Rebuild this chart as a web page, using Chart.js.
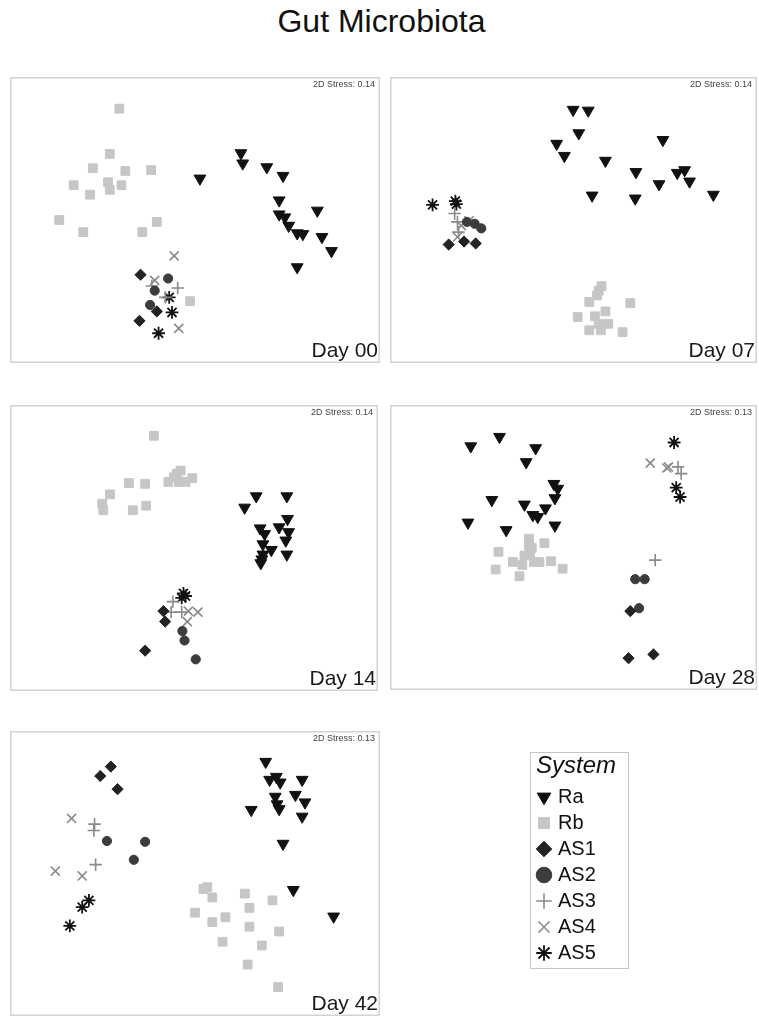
<!DOCTYPE html>
<html>
<head>
<meta charset="utf-8">
<title>Gut Microbiota – NMDS</title>
<script src="https://cdn.jsdelivr.net/npm/chart.js@4.4.1/dist/chart.umd.min.js"></script>
<style>
  html, body { margin: 0; padding: 0; background: #fff; }
  #page { position: relative; width: 759px; height: 1019px; overflow: hidden;
          font-family: "Liberation Sans", Arial, sans-serif; }
  #title { position: absolute; left: 0; top: 5px; width: 763px; text-align: center;
           font-size: 32px; line-height: 32px; color: #111; }
  .panel { position: absolute; }
  #legendBox { position: absolute; left: 530px; top: 752px; width: 97px; height: 215px;
               border: 1px solid #c4c4c4; overflow: hidden; background: #fff; }
  #legendBox canvas { position: absolute; left: 0; top: 0; }
</style>
</head>
<body>
<div id="page">
  <div id="title">Gut Microbiota</div>
  <canvas id="p0" class="panel" width="370" height="286" style="left:10px;top:77px"></canvas>
  <canvas id="p1" class="panel" width="367" height="286" style="left:390px;top:77px"></canvas>
  <canvas id="p2" class="panel" width="368" height="286" style="left:10px;top:405px"></canvas>
  <canvas id="p3" class="panel" width="367" height="285" style="left:390px;top:405px"></canvas>
  <canvas id="p4" class="panel" width="370" height="285" style="left:10px;top:731px"></canvas>
  <div id="legendBox"><canvas id="legendCanvas" width="300" height="270"></canvas></div>
</div>
<script>
// Sampling systems, sampling days and NMDS stress per day
const systems = ['Ra', 'Rb', 'AS1', 'AS2', 'AS3', 'AS4', 'AS5'];
const days = ['Day 00', 'Day 07', 'Day 14', 'Day 28', 'Day 42'];
const stress = ['0.14', '0.14', '0.14', '0.13', '0.13'];
const legendTitle = 'System';

// NMDS scores [axis 1, axis 2], rescaled to 0–100 on each day's ordination
const d00Ra  = [[51.4,65.4],[63.0,74.8],[63.5,71.0],[70.3,69.6],[74.9,66.4],[73.8,57.3],[73.8,52.1],[75.4,51.0],[76.5,47.9],[78.9,45.1],[80.5,44.8],[84.6,53.5],[85.9,43.7],[88.6,38.5],[78.9,32.5]];
const d00Rb  = [[28.6,91.3],[25.9,74.5],[21.1,69.2],[30.3,68.2],[37.6,68.5],[15.7,62.9],[20.3,59.4],[25.4,64.0],[25.9,61.2],[29.2,62.9],[11.6,50.0],[18.4,45.5],[35.1,45.5],[39.2,49.3],[48.6,19.9]];
const d00AS1 = [[34.6,29.7],[39.2,16.1],[34.3,12.6]];
const d00AS2 = [[42.4,28.3],[38.6,23.8],[37.3,18.5]];
const d00AS3 = [[41.6,21.3],[45.1,24.8],[37.8,25.5]];
const d00AS4 = [[44.1,36.7],[38.6,27.6],[45.4,9.8]];
const d00AS5 = [[42.7,21.3],[43.5,15.7],[39.7,8.0]];

const d07Ra  = [[49.9,90.9],[54.2,90.6],[51.5,82.2],[45.2,78.3],[47.4,73.8],[59.1,72.0],[75.5,79.7],[67.8,67.8],[74.4,63.3],[79.6,67.5],[81.7,68.5],[83.1,64.3],[89.9,59.4],[55.3,59.1],[67.6,58.0]];
const d07Rb  = [[58.0,25.5],[57.2,23.8],[56.7,22.0],[54.5,19.6],[66.2,19.2],[59.1,16.1],[56.1,14.3],[51.2,14.0],[57.2,11.5],[59.9,11.5],[54.5,9.1],[57.8,9.1],[64.0,8.4]];
const d07AS1 = [[14.4,40.9],[18.8,42.0],[22.1,41.3]];
const d07AS2 = [[19.6,49.3],[21.8,48.6],[23.7,46.9]];
const d07AS3 = [[16.1,52.4],[16.9,49.3],[17.2,45.5]];
const d07AS4 = [[18.0,47.9],[20.2,49.7],[16.9,43.7]];
const d07AS5 = [[9.8,55.6],[16.6,55.9],[16.3,57.0]];

const d14Ra  = [[64.4,65.0],[67.7,69.2],[76.4,69.2],[76.6,60.8],[74.2,57.7],[68.8,57.3],[70.1,55.2],[76.9,55.9],[76.1,52.8],[69.6,51.4],[72.0,49.3],[76.4,47.6],[69.6,47.6],[69.3,45.8],[69.0,44.4]];
const d14Rb  = [[38.6,91.6],[31.5,74.1],[36.1,73.8],[26.1,69.9],[23.9,66.4],[24.2,64.0],[32.6,64.0],[36.4,65.7],[42.7,74.5],[44.3,76.2],[46.2,78.7],[45.7,74.5],[47.6,74.5],[49.5,75.9],[45.1,77.6]];
const d14AS1 = [[41.3,26.6],[41.8,22.7],[36.1,11.9]];
const d14AS2 = [[46.7,19.2],[47.3,15.7],[50.5,8.7]];
const d14AS3 = [[44.0,30.1],[43.5,26.2],[46.5,26.2]];
const d14AS4 = [[48.4,26.6],[51.1,26.2],[48.1,22.7]];
const d14AS5 = [[47.0,33.2],[46.5,31.5],[47.6,32.2]];

const d28Ra  = [[20.7,87.7],[28.9,91.2],[39.2,87.0],[36.5,81.8],[44.4,73.7],[45.5,71.9],[44.7,68.4],[26.7,67.7],[36.0,66.0],[42.0,64.6],[38.4,62.1],[39.8,61.4],[19.9,59.3],[30.8,56.5],[44.7,58.2]];
const d28Rb  = [[37.3,53.3],[37.3,50.9],[41.7,51.6],[38.1,49.8],[28.6,48.4],[37.6,48.1],[36.0,47.0],[35.4,43.5],[32.7,44.6],[38.7,44.6],[40.3,44.6],[43.6,44.9],[27.8,41.8],[46.9,42.1],[34.6,39.3]];
const d28AS1 = [[66.2,26.3],[65.7,8.8],[72.8,10.2]];
const d28AS2 = [[67.6,38.2],[70.3,38.2],[68.7,27.4]];
const d28AS3 = [[79.8,80.0],[80.7,77.5],[73.3,45.3]];
const d28AS4 = [[71.9,81.4],[76.6,79.6],[77.1,80.0]];
const d28AS5 = [[78.7,89.1],[79.3,72.3],[80.4,68.8]];

const d42Ra  = [[70.0,91.6],[71.1,84.9],[73.0,86.0],[74.1,83.9],[80.3,84.9],[72.7,78.6],[78.4,79.3],[81.1,76.5],[73.2,75.8],[73.8,74.0],[65.9,73.7],[80.3,71.2],[74.9,61.1],[77.8,43.9],[89.2,34.0]];
const d42Rb  = [[52.4,44.2],[53.5,44.9],[54.9,41.1],[64.1,42.5],[71.9,40.0],[65.4,37.2],[50.0,35.4],[58.6,33.7],[54.9,31.9],[65.4,30.2],[73.8,28.4],[57.8,24.6],[68.9,23.2],[64.9,16.1],[73.5,7.7]];
const d42AS1 = [[26.2,89.8],[23.2,86.3],[28.1,81.4]];
const d42AS2 = [[25.1,62.1],[35.9,61.8],[32.7,55.1]];
const d42AS3 = [[21.6,68.4],[21.4,66.0],[21.9,53.3]];
const d42AS4 = [[15.1,70.5],[10.5,50.9],[18.1,49.1]];
const d42AS5 = [[20.0,40.0],[18.1,37.5],[14.6,30.5]];

const scoresByDay = [
  [d00Ra, d00Rb, d00AS1, d00AS2, d00AS3, d00AS4, d00AS5],
  [d07Ra, d07Rb, d07AS1, d07AS2, d07AS3, d07AS4, d07AS5],
  [d14Ra, d14Rb, d14AS1, d14AS2, d14AS3, d14AS4, d14AS5],
  [d28Ra, d28Rb, d28AS1, d28AS2, d28AS3, d28AS4, d28AS5],
  [d42Ra, d42Rb, d42AS1, d42AS2, d42AS3, d42AS4, d42AS5]
];

const FONT = '"Liberation Sans", Arial, sans-serif';
const NONE = 'rgba(0,0,0,0)';

// Marker appearance for each system
const markers = {
  Ra:  { pointStyle: 'triangle', rotation: 180, radius: 6.8, fill: '#111', stroke: '#111', width: 1 },
  Rb:  { pointStyle: 'rect',     rotation: 0,   radius: 6.2, fill: '#c6c6c6', stroke: '#c6c6c6', width: 1 },
  AS1: { pointStyle: 'rectRot',  rotation: 0,   radius: 5.6, fill: '#222', stroke: '#222', width: 1 },
  AS2: { pointStyle: 'circle',   rotation: 0,   radius: 4.6, fill: '#3c3c3c', stroke: '#3c3c3c', width: 1 },
  AS3: { pointStyle: 'cross',    rotation: 0,   radius: 6.2, fill: NONE, stroke: '#8a8a8a', width: 1.6 },
  AS4: { pointStyle: 'crossRot', rotation: 0,   radius: 6.4, fill: NONE, stroke: '#8a8a8a', width: 1.6 },
  AS5: { pointStyle: 'star',     rotation: 0,   radius: 6.4, fill: NONE, stroke: '#111', width: 1.8 }
};

function makeDataset(name, scores) {
  const m = markers[name];
  return {
    label: name,
    data: scores.map(p => ({ x: p[0], y: p[1] })),
    pointStyle: m.pointStyle,
    pointRotation: m.rotation,
    pointRadius: m.radius,
    pointHoverRadius: m.radius,
    backgroundColor: m.fill,
    pointBackgroundColor: m.fill,
    borderColor: m.stroke,
    pointBorderColor: m.stroke,
    borderWidth: m.width,
    pointBorderWidth: m.width,
    showLine: false,
    clip: false
  };
}

// Frame, stress value and day label of an ordination panel
const panelDecor = {
  id: 'panelDecor',
  afterDatasetsDraw(chart, args, opts) {
    const { ctx, width, height } = chart;
    ctx.save();
    ctx.strokeStyle = '#d3d3d3';
    ctx.lineWidth = 1.5;
    ctx.strokeRect(0.75, 0.75, width - 1.5, height - 1.5);
    ctx.fillStyle = '#444';
    ctx.font = '9px ' + FONT;
    ctx.textAlign = 'right';
    ctx.textBaseline = 'middle';
    ctx.fillText('2D Stress: ' + opts.stress, width - 5, 8);
    ctx.fillStyle = '#1a1a1a';
    ctx.font = '21px ' + FONT;
    ctx.textBaseline = 'alphabetic';
    ctx.fillText(opts.day, width - 2, height - 6);
    ctx.restore();
  }
};

days.forEach((day, i) => {
  new Chart(document.getElementById('p' + i), {
    type: 'scatter',
    data: { datasets: systems.map((s, k) => makeDataset(s, scoresByDay[i][k])) },
    options: {
      responsive: false,
      animation: false,
      devicePixelRatio: 1,
      events: [],
      layout: { padding: 0 },
      scales: {
        x: { display: false, min: 0, max: 100 },
        y: { display: false, min: 0, max: 100 }
      },
      plugins: {
        legend: { display: false },
        tooltip: { enabled: false },
        panelDecor: { day: day, stress: stress[i] }
      }
    },
    plugins: [panelDecor]
  });
});

// Italic heading above the legend entries
const legendHeading = {
  id: 'legendHeading',
  afterDraw(chart, args, opts) {
    const ctx = chart.ctx;
    ctx.save();
    ctx.fillStyle = '#111';
    ctx.font = 'italic 24px ' + FONT;
    ctx.textAlign = 'left';
    ctx.textBaseline = 'alphabetic';
    ctx.fillText(opts.text, 5, 20);
    ctx.restore();
  }
};

// Shared legend of the sampling systems
new Chart(document.getElementById('legendCanvas'), {
  type: 'scatter',
  data: { datasets: systems.map(s => makeDataset(s, [])) },
  options: {
    responsive: false,
    animation: false,
    devicePixelRatio: 1,
    events: [],
    layout: { padding: { left: 3, top: 28 } },
    scales: { x: { display: false }, y: { display: false } },
    plugins: {
      tooltip: { enabled: false },
      legendHeading: { text: legendTitle },
      legend: {
        position: 'left',
        align: 'start',
        maxWidth: 200,
        labels: {
          usePointStyle: true,
          boxWidth: 8,
          boxHeight: 11,
          padding: 6,
          color: '#111',
          font: { family: FONT, size: 20 }
        }
      }
    }
  },
  plugins: [legendHeading]
});
</script>
</body>
</html>
